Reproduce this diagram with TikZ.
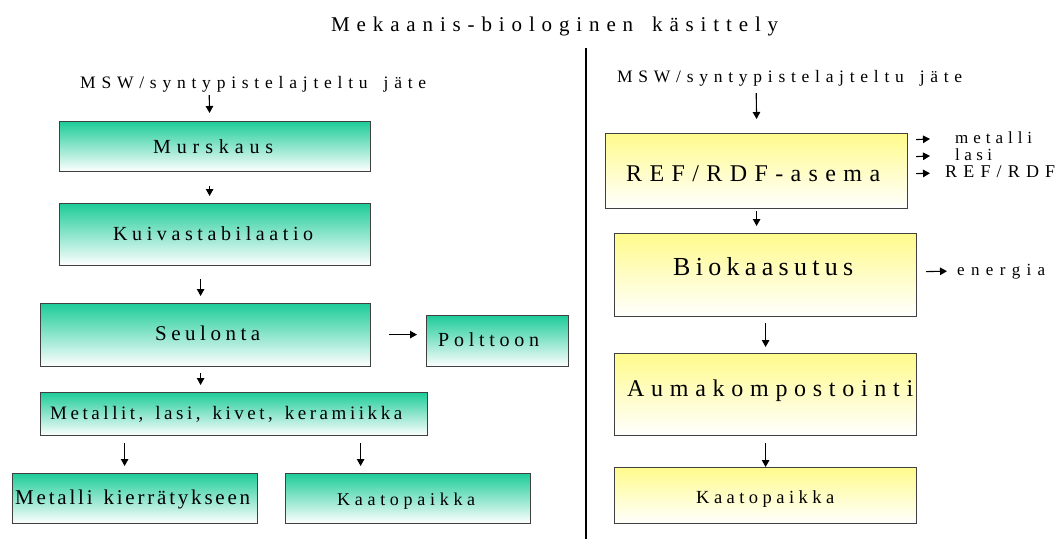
\documentclass[tikz,border=0pt]{standalone}
\usepackage{fontspec}
\setmainfont{Liberation Serif}
\usetikzlibrary{arrows.meta}
\definecolor{mbgreen}{RGB}{30,204,153}
\definecolor{mbyellow}{RGB}{255,251,140}
\definecolor{edgegray}{RGB}{64,64,64}

% Set a word letter-spaced to a given width (in pt)
\ExplSyntaxOn
\NewDocumentCommand \spreadto { m m }
  { \hbox_to_wd:nn { #1 pt } { \str_map_inline:nn { #2 } { ##1 \hfil } \unskip } }
\ExplSyntaxOff

\begin{document}
\begin{tikzpicture}[x=1pt,y=-1pt,
  gbox/.style={draw=edgegray, line width=1.2pt, top color=mbgreen,
    middle color=mbgreen!45!white, bottom color=white, inner sep=0pt, anchor=north west},
  ybox/.style={draw=edgegray, line width=1.2pt, top color=mbyellow,
    middle color=mbyellow!50!white, bottom color=white, inner sep=0pt, anchor=north west},
  txt/.style={inner sep=0pt, text depth=0pt, anchor=base west,
    font=\fontsize{#1}{#1}\selectfont},
  arr/.style={line width=1.1pt, -{Triangle[length=7pt,width=7.5pt]}},
  divider/.style={line width=1.2pt}
]
\useasboundingbox (0,0) rectangle (1058,539);
\fill[white] (0,0) rectangle (1058,539);

% title and divider
\node[txt=21] (title) at (331,31) {\spreadto{447}{Mekaanis-biologinen käsittely}};
\coordinate (divtop) at (586,48);
\coordinate (divbot) at (586,539);
\draw[divider] (divtop) -- (divbot);

% ---------- mechanical line (left) ----------
\node[txt=17.5] (mswL) at (80,88) {\spreadto{346}{MSW/syntypistelajteltu jäte}};

\node[gbox, minimum width=311pt, minimum height=50pt] (murskaus) at (59,121) {};
\node[gbox, minimum width=311pt, minimum height=62pt] (kuiva) at (59,203) {};
\node[gbox, minimum width=330pt, minimum height=63pt] (seulonta) at (40,303) {};
\node[gbox, minimum width=142pt, minimum height=51pt] (polttoon) at (426,315) {};
\node[gbox, minimum width=387pt, minimum height=43pt] (metallit) at (40,392) {};
\node[gbox, minimum width=245pt, minimum height=50pt] (kierratys) at (12,473) {};
\node[gbox, minimum width=245pt, minimum height=50pt] (kaatoL) at (285,473) {};

\node[txt=20] (tmurskaus) at (153,153) {\spreadto{120}{Murskaus}};
\node[txt=20] (tkuiva) at (113,240) {\spreadto{200}{Kuivastabilaatio}};
\node[txt=21] (tseulonta) at (155,340) {\spreadto{105}{Seulonta}};
\node[txt=20] (tpolttoon) at (438,346) {\spreadto{101}{Polttoon}};
\node[txt=19] (tmetallit) at (50,419) {\spreadto{352}{Metallit, lasi, kivet, keramiikka}};
\node[txt=21] (tkierratys) at (15,504) {\spreadto{235}{Metalli kierrätykseen}};
\node[txt=18] (tkaatoL) at (337,505) {\spreadto{138}{Kaatopaikka}};

\draw[arr] ([shift={(-44,7)}]mswL.south) -- ([shift={(-5.5,-8)}]murskaus.north);
\draw[arr] ([shift={(-5.5,14)}]murskaus.south) -- ([shift={(-5.5,-7)}]kuiva.north);
\draw[arr] ([shift={(-14.5,13)}]kuiva.south) -- ([shift={(-5,-7)}]seulonta.north);
\draw[arr] ([shift={(18,-0.5)}]seulonta.east) -- ([shift={(-9,-6.5)}]polttoon.west);
\draw[arr] ([shift={(-5,6)}]seulonta.south) -- ([shift={(-33.5,-7)}]metallit.north);
\draw[arr] ([shift={(-109.5,7)}]metallit.south) -- ([shift={(-10.5,-7)}]kierratys.north);
\draw[arr] ([shift={(126.5,7)}]metallit.south) -- ([shift={(-47.5,-7)}]kaatoL.north);

% ---------- mechanical-biological line (right) ----------
\node[txt=17.5] (mswR) at (617,82) {\spreadto{345}{MSW/syntypistelajteltu jäte}};

\node[ybox, minimum width=302pt, minimum height=75pt] (ref) at (605,133) {};
\node[ybox, minimum width=302pt, minimum height=83pt] (bio) at (614,233) {};
\node[ybox, minimum width=302pt, minimum height=82pt] (auma) at (614,353) {};
\node[ybox, minimum width=302pt, minimum height=56pt] (kaatoR) at (614,467) {};

\node[txt=24] (tref) at (626,181) {\spreadto{254}{REF/RDF-asema}};
\node[txt=26] (tbio) at (673,275) {\spreadto{180}{Biokaasutus}};
\node[txt=24] (tauma) at (627,396) {\spreadto{286}{Aumakompostointi}};
\node[txt=18.5] (tkaatoR) at (696,503) {\spreadto{138}{Kaatopaikka}};

\node[txt=17] (lmetalli) at (955,143) {\spreadto{77}{metalli}};
\node[txt=17] (llasi) at (955,160) {\spreadto{37}{lasi}};
\node[txt=18] (lrefrdf) at (945,177) {\spreadto{110}{REF/RDF}};
\node[txt=17] (lenergia) at (957,275) {\spreadto{88}{energia}};

\draw[arr] ([shift={(-33.5,11)}]mswR.south) -- ([shift={(0,-14)}]ref.north);
\draw[arr] ([shift={(8,-31.5)}]ref.east) -- ([shift={(-25,1.8)}]lmetalli.west);
\draw[arr] ([shift={(8,-14.5)}]ref.east) -- ([shift={(-25,1.8)}]llasi.west);
\draw[arr] ([shift={(8,2.5)}]ref.east) -- ([shift={(-15,2.2)}]lrefrdf.west);
\draw[arr] ([shift={(0,2)}]ref.south) -- ([shift={(-9,-7)}]bio.north);
\draw[arr] ([shift={(9,-3.5)}]bio.east) -- ([shift={(-10,1.8)}]lenergia.west);
\draw[arr] ([shift={(0,6)}]bio.south) -- ([shift={(0,-6)}]auma.north);
\draw[arr] ([shift={(0,7)}]auma.south) -- (kaatoR.north);
\end{tikzpicture}
\end{document}
